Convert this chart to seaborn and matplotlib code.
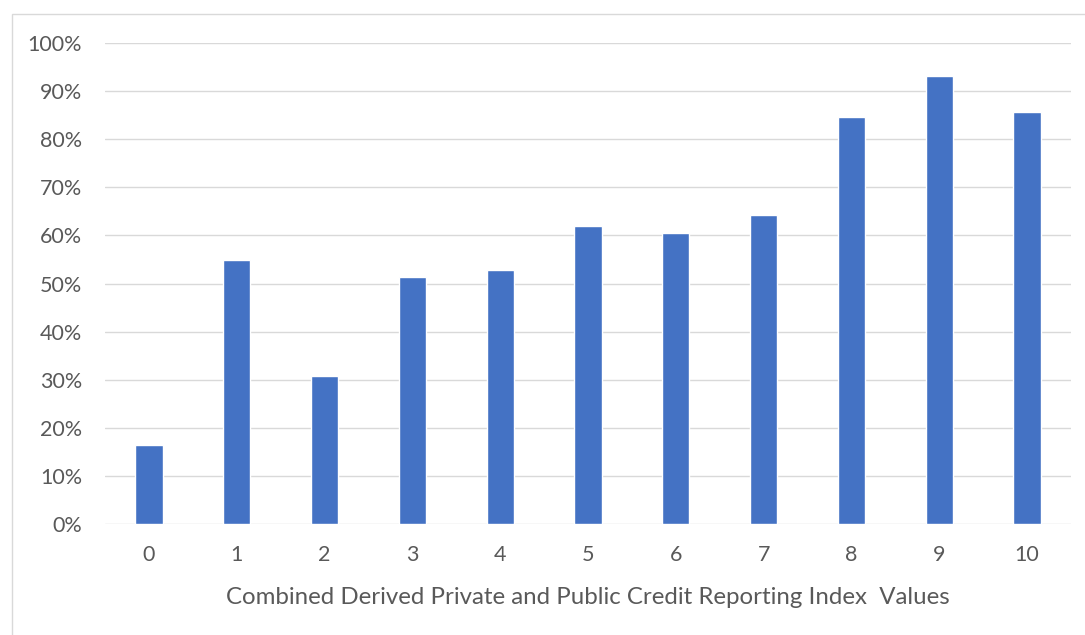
import matplotlib
matplotlib.use("Agg")
import matplotlib.pyplot as plt
import matplotlib.patches as mpatches
from matplotlib.ticker import PercentFormatter
import seaborn as sns
import pandas as pd

# Index values and share of economies at each value
index_values = ["0", "1", "2", "3", "4", "5", "6", "7", "8", "9", "10"]
shares = [16.5, 54.9, 30.7, 51.4, 52.9, 61.9, 60.5, 64.3, 84.7, 93.1, 85.7]
y_ticks = [0, 10, 20, 30, 40, 50, 60, 70, 80, 90, 100]
x_label = "Combined Derived Private and Public Credit Reporting Index  Values"

df = pd.DataFrame({"index": index_values, "share": shares})

sns.set_theme(style="white")
plt.rcParams["font.family"] = ["Lato", "DejaVu Sans"]

text_color = "#595959"
grid_color = "#D9D9D9"
bar_color = "#4472C4"

fig = plt.figure(figsize=(10.85, 6.35), dpi=100)
ax = fig.add_axes([105 / 1085, 1 - 524 / 635, (1071 - 105) / 1085, (524 - 43) / 635])

# outer chart frame
fig.patches.append(mpatches.Rectangle((12 / 1085, -0.1), 1.2, 1 - 14 / 635 + 0.1,
                                      transform=fig.transFigure, fill=False,
                                      edgecolor="#D9D9D9", linewidth=1.0))

sns.barplot(data=df, x="index", y="share", color=bar_color, width=0.31,
            saturation=1, ax=ax, zorder=3)

ax.set_ylim(0, 100)
ax.set_xlim(-0.5, len(index_values) - 0.5)
ax.set_yticks(y_ticks)
ax.yaxis.set_major_formatter(PercentFormatter(decimals=0))
ax.grid(axis="y", color=grid_color, linewidth=1.0, zorder=0)
ax.set_axisbelow(True)
for side in ["top", "right", "left", "bottom"]:
    ax.spines[side].set_visible(False)

ax.tick_params(axis="both", length=0, labelsize=15.5, labelcolor=text_color)
ax.tick_params(axis="y", pad=16.5)
ax.tick_params(axis="x", pad=15)
ax.set_ylabel("")
ax.set_xlabel(x_label, fontsize=17.3, color=text_color, labelpad=16)

fig.savefig("out.png", dpi=100)
